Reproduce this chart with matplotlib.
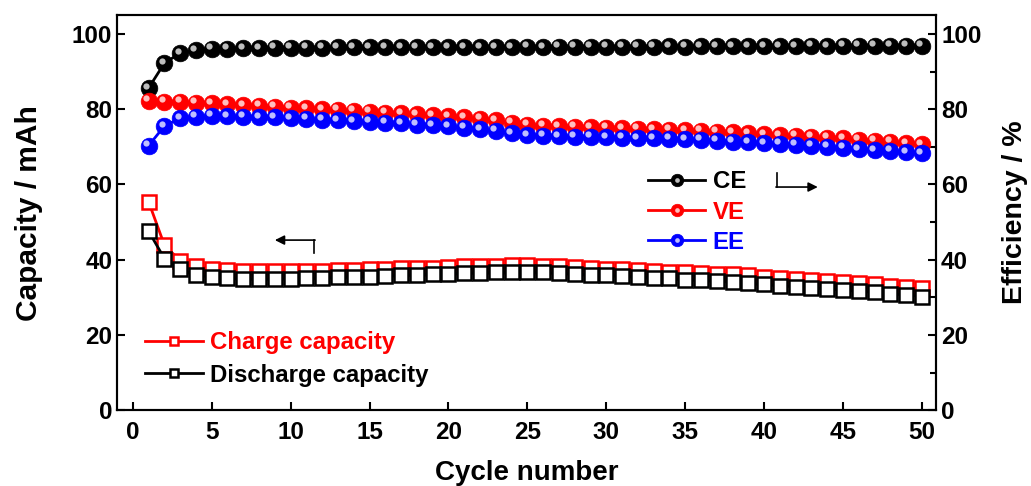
import numpy as np
import matplotlib
matplotlib.use("Agg")
import matplotlib.pyplot as plt
from matplotlib.transforms import ScaledTranslation
from matplotlib.legend_handler import HandlerTuple

plt.rcParams['font.family'] = ['Liberation Sans', 'DejaVu Sans']
plt.rcParams['font.weight'] = 'bold'

cycles = list(range(1, 51))

charge = [55.4, 43.9, 39.7, 38.2, 37.6, 37.3, 37.0, 36.9, 36.9, 36.9,
          37.0, 37.1, 37.2, 37.3, 37.4, 37.5, 37.7, 37.8, 37.9, 38.1,
          38.2, 38.3, 38.4, 38.5, 38.5, 38.4, 38.2, 38.0, 37.8, 37.6,
          37.4, 37.2, 37.0, 36.8, 36.7, 36.5, 36.3, 36.1, 35.8, 35.5,
          35.2, 34.9, 34.6, 34.3, 34.0, 33.7, 33.4, 33.1, 32.8, 32.4]
discharge = [47.6, 40.3, 37.4, 35.9, 35.4, 35.0, 34.8, 34.8, 34.8, 34.9,
             35.0, 35.1, 35.3, 35.4, 35.5, 35.7, 35.8, 36.0, 36.1, 36.3,
             36.4, 36.5, 36.6, 36.7, 36.7, 36.6, 36.4, 36.2, 36.0, 35.8,
             35.6, 35.4, 35.2, 35.0, 34.7, 34.5, 34.3, 34.0, 33.7, 33.4,
             33.1, 32.8, 32.5, 32.2, 31.9, 31.6, 31.3, 31.0, 30.6, 30.2]
ce = [85.6, 92.2, 94.9, 95.6, 96.0, 96.1, 96.2, 96.2, 96.3, 96.3,
      96.3, 96.3, 96.4, 96.4, 96.4, 96.4, 96.4, 96.5, 96.5, 96.5,
      96.5, 96.5, 96.5, 96.5, 96.6, 96.5, 96.6, 96.6, 96.6, 96.6,
      96.6, 96.6, 96.6, 96.7, 96.6, 96.7, 96.7, 96.7, 96.7, 96.7,
      96.7, 96.7, 96.8, 96.7, 96.8, 96.8, 96.8, 96.8, 96.8, 96.8]
ve = [82.2, 82.0, 81.9, 81.7, 81.5, 81.3, 81.1, 80.9, 80.7, 80.4,
      80.2, 80.0, 79.8, 79.6, 79.3, 79.1, 78.9, 78.6, 78.4, 78.1,
      77.8, 77.4, 77.0, 76.4, 75.8, 75.6, 75.5, 75.3, 75.2, 75.0,
      74.9, 74.8, 74.6, 74.5, 74.4, 74.2, 74.0, 73.8, 73.6, 73.3,
      73.1, 72.9, 72.6, 72.4, 72.2, 71.9, 71.6, 71.3, 71.0, 70.7]
ee = [70.3, 75.5, 77.6, 78.0, 78.2, 78.1, 78.0, 77.9, 77.8, 77.6,
      77.4, 77.2, 77.0, 76.8, 76.6, 76.4, 76.2, 75.9, 75.7, 75.4,
      75.1, 74.7, 74.2, 73.6, 73.0, 72.9, 72.8, 72.7, 72.6, 72.5,
      72.4, 72.3, 72.2, 72.1, 72.0, 71.8, 71.6, 71.4, 71.2, 71.0,
      70.8, 70.6, 70.3, 70.0, 69.7, 69.4, 69.1, 68.9, 68.6, 68.3]

fig = plt.figure(figsize=(10.31, 4.86), dpi=100)
ax = fig.add_axes([0.1135, 0.156, 0.7945, 0.813])
ax2 = ax.twinx()

# capacity (left axis), open squares
cap_handles = []
for vals, col, lab in [(charge, 'red', 'Charge capacity'),
                       (discharge, 'black', 'Discharge capacity')]:
    h, = ax.plot(cycles, vals, color=col, lw=2, marker='s', ms=9.5,
                 mfc='white', mec=col, mew=1.8, label=lab)
    cap_handles.append(h)

# efficiency (right axis), shaded spheres
shine = ax2.transData + ScaledTranslation(-1.8 / 72, 1.8 / 72, fig.dpi_scale_trans)
eff_handles = []
for vals, col, lab in [(ce, 'black', 'CE'), (ve, '#ff0000', 'VE'), (ee, '#0000ff', 'EE')]:
    h, = ax2.plot(cycles, vals, color=col, lw=2, marker='o', ms=12,
                  mfc=col, mec=col, mew=0.5)
    hl, = ax2.plot(cycles, vals, ls='none', marker='o', ms=4.5, mfc='white',
                   mec='none', alpha=0.75, transform=shine)
    eff_handles.append((h, hl, lab, col))

ax.set_xlim(-1, 50.9)
ax.set_ylim(0, 105)
ax2.set_ylim(0, 105)
ax.set_xticks(range(0, 51, 5))
ax.set_yticks(range(0, 101, 20))
ax2.set_yticks(range(0, 101, 20))
ax2.set_yticks(range(10, 100, 20), minor=True)

for a in (ax, ax2):
    a.tick_params(direction='in', labelsize=17.5, width=1.5, length=6)
    a.tick_params(which='minor', direction='in', width=1.5, length=4)
    for s in a.spines.values():
        s.set_linewidth(1.5)
    for t in a.get_xticklabels() + a.get_yticklabels():
        t.set_fontweight('bold')
ax.tick_params(axis='y', right=False)
ax.tick_params(axis='x', pad=8)

ax.set_xlabel('Cycle number', fontsize=20, fontweight='bold', labelpad=11)
ax.set_ylabel('Capacity / mAh', fontsize=21.5, fontweight='bold', labelpad=21)
ax2.set_ylabel('Efficiency / %', fontsize=20.5, fontweight='bold', labelpad=15)

leg1 = ax.legend(handles=cap_handles, loc='upper left', bbox_to_anchor=(0.034, 0.2),
                 frameon=False, fontsize=17.3, handlelength=2.4, handletextpad=0.3,
                 labelspacing=0.4, borderaxespad=0, borderpad=0, markerscale=0.65)
for txt, h in zip(leg1.get_texts(), cap_handles):
    txt.set_color(h.get_color())

leg2 = ax2.legend(handles=[(h, hl) for h, hl, _, _ in eff_handles],
                  labels=[lab for _, _, lab, _ in eff_handles],
                  handler_map={tuple: HandlerTuple(ndivide=1)},
                  loc='upper left', bbox_to_anchor=(0.648, 0.607),
                  frameon=False, fontsize=17.3, handlelength=2.4, handletextpad=0.3,
                  labelspacing=0.3, borderaxespad=0, borderpad=0, markerscale=0.75)
for txt, (_, _, _, col) in zip(leg2.get_texts(), eff_handles):
    txt.set_color(col)

# direction arrows
ax.plot([11.5, 11.5], [41.8, 45.2], color='black', lw=1.2)
ax.annotate('', xy=(9.0, 45.2), xytext=(11.55, 45.2),
            arrowprops=dict(arrowstyle='-|>', color='black', lw=1.2,
                            mutation_scale=14, shrinkA=0, shrinkB=0))
ax2.plot([40.8, 40.8], [63.0, 59.3], color='black', lw=1.2)
ax2.annotate('', xy=(43.4, 59.3), xytext=(40.75, 59.3),
             arrowprops=dict(arrowstyle='-|>', color='black', lw=1.2,
                             mutation_scale=14, shrinkA=0, shrinkB=0))

fig.savefig('out.png', dpi=100)
